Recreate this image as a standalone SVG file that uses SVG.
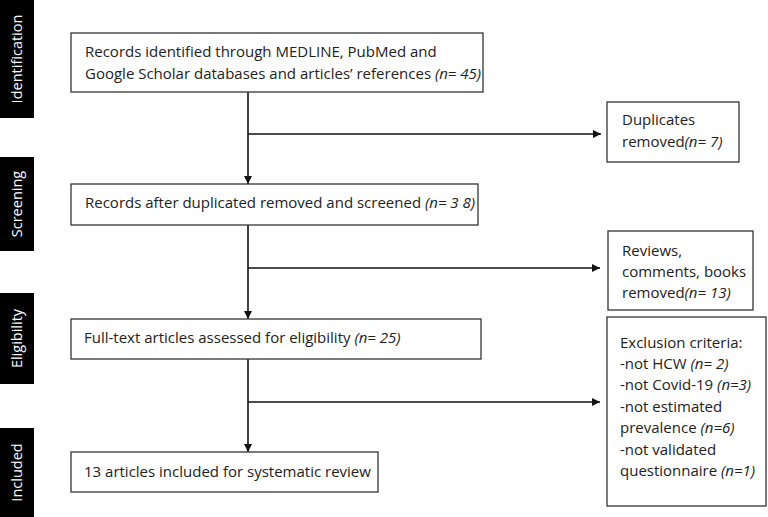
<svg xmlns="http://www.w3.org/2000/svg" width="768" height="517" viewBox="0 0 768 517">
<defs>
<marker id="ah" viewBox="0 0 10 10" refX="10" refY="5" markerWidth="8" markerHeight="8" markerUnits="userSpaceOnUse" orient="auto">
<path d="M0,0 L10,5 L0,10 z" fill="#111"/>
</marker>
</defs>
<style>
.box{fill:#fff;stroke:#333;stroke-width:1.3}
.t{font-family:"Open Sans","Liberation Sans",Arial,sans-serif;font-size:15px;fill:#222}
.i{font-style:italic}
.side{fill:#000}
.st{font-family:"Open Sans","Liberation Sans",Arial,sans-serif;font-size:14.5px;fill:#fff}
.ln{stroke:#111;stroke-width:1.6;fill:none}
</style>
<rect width="768" height="517" fill="#fff"/>
<g id="side-identification"><rect class="side" x="0" y="0" width="34" height="118"/><text class="st" transform="translate(22,59) rotate(-90)" text-anchor="middle">Identification</text></g>
<g id="side-screening"><rect class="side" x="0" y="157" width="34" height="94"/><text class="st" transform="translate(22,204) rotate(-90)" text-anchor="middle">Screening</text></g>
<g id="side-eligibility"><rect class="side" x="0" y="293" width="34" height="91"/><text class="st" transform="translate(22,338.5) rotate(-90)" text-anchor="middle">Eligibility</text></g>
<g id="side-included"><rect class="side" x="0" y="428" width="34" height="89"/><text class="st" transform="translate(22,472.5) rotate(-90)" text-anchor="middle">Included</text></g>

<g id="connectors">
<line class="ln" x1="248" y1="92" x2="248" y2="184" marker-end="url(#ah)"/>
<line class="ln" x1="248" y1="134" x2="601" y2="134" marker-end="url(#ah)"/>
<line class="ln" x1="248" y1="225" x2="248" y2="319" marker-end="url(#ah)"/>
<line class="ln" x1="248" y1="268" x2="600" y2="268" marker-end="url(#ah)"/>
<line class="ln" x1="248" y1="359" x2="248" y2="452" marker-end="url(#ah)"/>
<line class="ln" x1="248" y1="402" x2="600" y2="402" marker-end="url(#ah)"/>
</g>

<g id="records-identified"><rect class="box" x="71" y="33" width="412" height="59"/>
<text class="t" x="85" y="57">Records identified through MEDLINE, PubMed and</text>
<text class="t" x="85" y="79">Google Scholar databases and articles’ references <tspan class="i">(n= 45)</tspan></text></g>

<g id="duplicates"><rect class="box" x="607" y="102" width="132" height="60"/>
<text class="t" x="622" y="125">Duplicates</text>
<text class="t" x="622" y="147">removed<tspan class="i">(n= 7)</tspan></text></g>

<g id="records-screened"><rect class="box" x="71" y="184" width="407" height="41"/>
<text class="t" x="85" y="208">Records after duplicated removed and screened <tspan class="i">(n= 3 8)</tspan></text></g>

<g id="reviews"><rect class="box" x="608" y="231" width="145" height="79"/>
<text class="t" x="622" y="256">Reviews,</text>
<text class="t" x="622" y="277">comments, books</text>
<text class="t" x="622" y="298">removed<tspan class="i">(n= 13)</tspan></text></g>

<g id="full-text"><rect class="box" x="71" y="319" width="410" height="40"/>
<text class="t" x="84" y="343">Full-text articles assessed for eligibility <tspan class="i">(n= 25)</tspan></text></g>

<g id="exclusion"><rect class="box" x="607" y="317" width="159" height="189"/>
<text class="t" x="620" y="348">Exclusion criteria:</text>
<text class="t" x="620" y="369">-not HCW <tspan class="i">(n= 2)</tspan></text>
<text class="t" x="620" y="390">-not Covid-19 <tspan class="i">(n=3)</tspan></text>
<text class="t" x="620" y="412">-not estimated</text>
<text class="t" x="620" y="433">prevalence <tspan class="i">(n=6)</tspan></text>
<text class="t" x="620" y="455">-not validated</text>
<text class="t" x="620" y="476">questionnaire <tspan class="i">(n=1)</tspan></text></g>

<g id="included"><rect class="box" x="71" y="452" width="307" height="40"/>
<text class="t" x="84" y="477">13 articles included for systematic review</text></g>
</svg>
